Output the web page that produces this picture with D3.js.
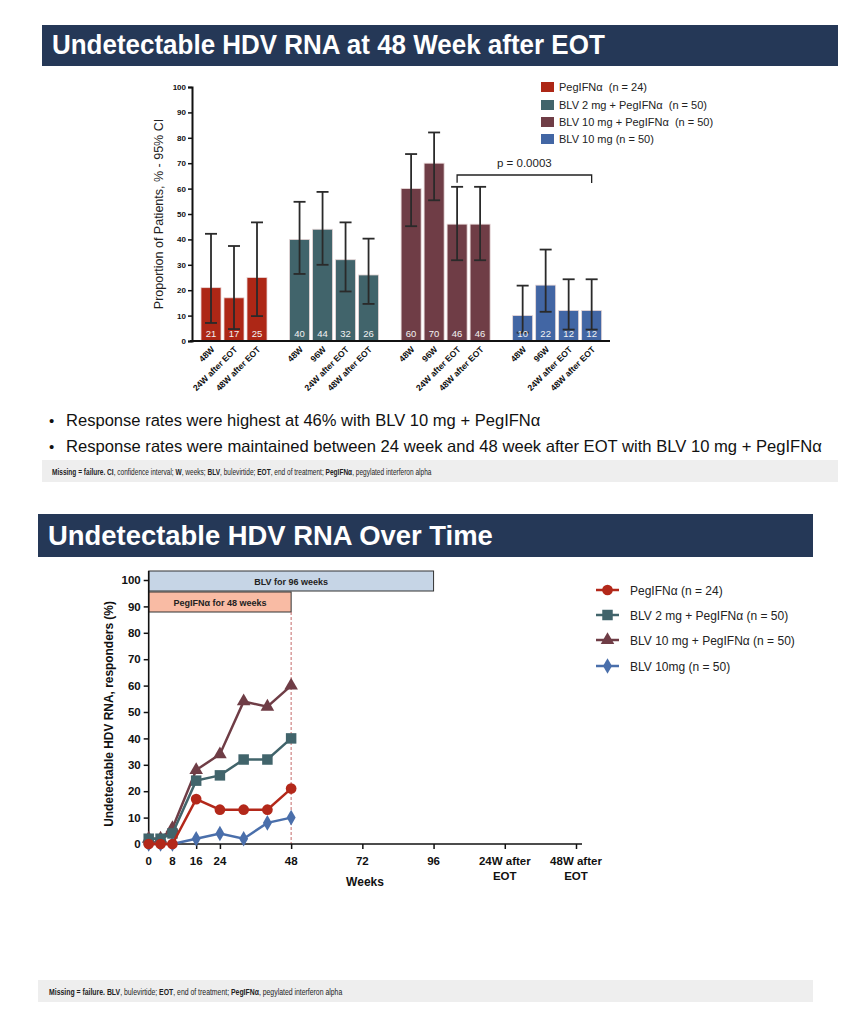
<!DOCTYPE html>
<html><head><meta charset="utf-8">
<script src="https://cdn.jsdelivr.net/npm/d3@7/dist/d3.min.js"></script>
<style>
html,body{margin:0;padding:0;background:#fff;}
svg{display:block;font-family:"Liberation Sans",Arial,sans-serif;}
</style></head>
<body>
<svg id="chart" width="866" height="1021"></svg>
<script>
// ---------- DATA ----------
const barGroupNames = ["PegIFNα  (n = 24)", "BLV 2 mg + PegIFNα  (n = 50)", "BLV 10 mg + PegIFNα  (n = 50)", "BLV 10 mg (n = 50)"];
const barColors = ["#ad2716", "#41646b", "#6f3d46", "#4266a4"];
const barLabels = [
  ["48W", "24W after EOT", "48W after EOT"],
  ["48W", "96W", "24W after EOT", "48W after EOT"],
  ["48W", "96W", "24W after EOT", "48W after EOT"],
  ["48W", "96W", "24W after EOT", "48W after EOT"]
];
const barValues = [[21, 17, 25], [40, 44, 32, 26], [60, 70, 46, 46], [10, 22, 12, 12]];
const ciLow = [[7.1, 4.7, 9.8], [26.4, 30.0, 19.5, 14.6], [45.2, 55.4, 31.8, 31.8], [3.3, 11.5, 4.5, 4.5]];
const ciHigh = [[42.2, 37.4, 46.7], [54.8, 58.7, 46.7, 40.3], [73.6, 82.1, 60.7, 60.7], [21.8, 36.0, 24.3, 24.3]];
const barYTicks = [0, 10, 20, 30, 40, 50, 60, 70, 80, 90, 100];
const pValueText = "p = 0.0003";

const lineSeriesNames = ["PegIFNα (n = 24)", "BLV 2 mg + PegIFNα (n = 50)", "BLV 10 mg + PegIFNα (n = 50)", "BLV 10mg (n = 50)"];
const lineColors = ["#b3281a", "#41646b", "#6f3d46", "#4a6fab"];
const weeks = [0, 4, 8, 16, 24, 32, 40, 48];
const linePeg = [0, 0, 0, 17, 13, 13, 13, 21];
const lineBlv2 = [2, 2, 4, 24, 26, 32, 32, 40];
const lineBlv10P = [2, 2, 6, 28, 34, 54, 52, 60];
const lineBlv10 = [0, 0, 0, 2, 4, 2, 8, 10];
const lineXTicks = [0, 8, 16, 24, 48, 72, 96, 120, 144];
const lineXTickLabels = ["0", "8", "16", "24", "48", "72", "96", "24W after|EOT", "48W after|EOT"];
const lineYTicks = [0, 10, 20, 30, 40, 50, 60, 70, 80, 90, 100];

const svg = d3.select("#chart");
svg.append("rect").attr("width", 866).attr("height", 1021).attr("fill", "#fff");

// ---------- helpers ----------
function fitText(sel, x, y, targetW) {
  const w = sel.node().getComputedTextLength();
  const sx = targetW / w;
  sel.attr("x", 0).attr("y", 0).attr("transform", `translate(${x},${y}) scale(${sx},1)`);
  return sel;
}
function titleBar(x, y, w, h, text, tx, tlen) {
  svg.append("rect").attr("x", x).attr("y", y).attr("width", w).attr("height", h).attr("fill", "#253857");
  const t = svg.append("text").attr("fill", "#fff")
    .attr("font-size", 27).attr("font-weight", "bold").text(text);
  fitText(t, tx, y + h - 12, tlen);
}
function footBar(x, y, w, h, parts, tx, tlen) {
  svg.append("rect").attr("x", x).attr("y", y).attr("width", w).attr("height", h).attr("fill", "#eeeeee");
  const t = svg.append("text").attr("fill", "#222").attr("font-size", 8.5);
  parts.forEach(p => t.append("tspan").attr("font-weight", p[1] ? "bold" : "normal").text(p[0]));
  fitText(t, tx, y + 15, tlen);
}

// ---------- TOP: titles ----------
titleBar(42, 25, 796, 41, "Undetectable HDV RNA at 48 Week after EOT", 52, 553);

// ---------- BAR CHART ----------
const yB = d3.scaleLinear().domain([0, 100]).range([341, 87]);
const slot = d3.scaleLinear().domain([0, 1]).range([201, 224]);
const bw = slot(0.87) - slot(0);
const bars = [];
let idx = 0;
barValues.forEach((vals, g) => {
  vals.forEach((v, i) => {
    bars.push({ g, i, v, lo: ciLow[g][i], hi: ciHigh[g][i], label: barLabels[g][i], u: idx + 0.85 * g });
    idx++;
  });
});

const gB = svg.append("g");
gB.selectAll("rect.bar").data(bars).enter().append("rect")
  .attr("x", d => slot(d.u)).attr("y", d => yB(d.v))
  .attr("width", bw).attr("height", d => yB(0) - yB(d.v))
  .attr("fill", d => barColors[d.g]).attr("stroke", "#e8d8d8").attr("stroke-width", 0.8);

// error bars
const eb = gB.selectAll("g.err").data(bars).enter().append("g").attr("stroke", "#2a2a2a").attr("stroke-width", 1.8);
eb.append("line").attr("x1", d => slot(d.u) + bw / 2).attr("x2", d => slot(d.u) + bw / 2)
  .attr("y1", d => yB(d.hi)).attr("y2", d => yB(d.lo));
eb.append("line").attr("x1", d => slot(d.u) + bw / 2 - 6).attr("x2", d => slot(d.u) + bw / 2 + 6)
  .attr("y1", d => yB(d.hi)).attr("y2", d => yB(d.hi));
eb.append("line").attr("x1", d => slot(d.u) + bw / 2 - 6).attr("x2", d => slot(d.u) + bw / 2 + 6)
  .attr("y1", d => yB(d.lo)).attr("y2", d => yB(d.lo));

// value labels
gB.selectAll("text.val").data(bars).enter().append("text")
  .attr("x", d => slot(d.u) + bw / 2).attr("y", yB(0) - 4)
  .attr("text-anchor", "middle").attr("fill", "#f2f2f2").attr("font-size", 9.5).text(d => d.v);

// y axis
const yAxisB = svg.append("g").attr("transform", "translate(192,0)")
  .call(d3.axisLeft(yB).tickValues(barYTicks).tickSize(4).tickPadding(2));
yAxisB.select(".domain").attr("stroke", "#111").attr("stroke-width", 2);
yAxisB.selectAll(".tick line").attr("stroke", "#111").attr("stroke-width", 1.5);
yAxisB.selectAll(".tick text").attr("font-size", 8).attr("font-weight", "bold").attr("fill", "#111")
  .attr("font-family", "Liberation Sans, Arial, sans-serif");
// x axis line
svg.append("line").attr("x1", 190).attr("x2", 610).attr("y1", yB(0)).attr("y2", yB(0))
  .attr("stroke", "#111").attr("stroke-width", 2);

// x labels
gB.selectAll("text.xl").data(bars).enter().append("text")
  .attr("transform", d => `translate(${slot(d.u) + bw / 2 + 4},${yB(0) + 9}) rotate(-45)`)
  .attr("text-anchor", "end").attr("font-size", 8.6).attr("font-weight", "bold").attr("fill", "#111")
  .text(d => d.label);

// y label
svg.append("text").attr("transform", "translate(163,214) rotate(-90)").attr("text-anchor", "middle")
  .attr("font-size", 12.5).attr("fill", "#222").text("Proportion of Patients, % - 95% CI");

// legend
const leg1 = svg.append("g");
barGroupNames.forEach((n, i) => {
  const y = [87, 105, 122, 139][i];
  leg1.append("rect").attr("x", 541).attr("y", y - 5).attr("width", 13).attr("height", 10).attr("fill", barColors[i]);
  leg1.append("text").attr("x", 559).attr("y", y + 4).attr("font-size", 11).attr("fill", "#222")
    .style("white-space", "pre").text(n);
});

// p-value bracket
const bA = bars[9], bB = bars[14];
const xA = slot(bA.u) + bw / 2, xBr = slot(bB.u) + bw / 2;
svg.append("path").attr("d", `M${xA},${yB(bA.hi) - 4}V175H${xBr}V${183}`)
  .attr("fill", "none").attr("stroke", "#222").attr("stroke-width", 1.3);
svg.append("text").attr("x", (xA + xBr) / 2).attr("y", 167).attr("text-anchor", "middle")
  .attr("font-size", 11.5).attr("fill", "#222").text(pValueText);

// bullets
const bulletTexts = [
  ["Response rates were highest at 46% with BLV 10 mg + PegIFNα", 475],
  ["Response rates were maintained between 24 week and 48 week after EOT with BLV 10 mg + PegIFNα", 756]
];
bulletTexts.forEach((b, i) => {
  const y = 426 + i * 26;
  svg.append("text").attr("x", 49).attr("y", y).attr("font-size", 15).attr("fill", "#111").text("•");
  const t = svg.append("text").attr("font-size", 16.5).attr("fill", "#111").text(b[0]);
  fitText(t, 66, y, b[1]);
});

footBar(42, 460, 796, 22, [
  ["Missing = failure. ", 1], ["CI", 1], [", confidence interval; ", 0], ["W", 1], [", weeks; ", 0],
  ["BLV", 1], [", bulevirtide; ", 0], ["EOT", 1], [", end of treatment; ", 0], ["PegIFNα", 1], [", pegylated interferon alpha", 0]
], 52, 380);

// ---------- BOTTOM ----------
titleBar(38, 514, 775, 43, "Undetectable HDV RNA Over Time", 48, 445);

const xL = d3.scaleLinear().domain([0, 144]).range([148.7, 576]);
const yL = d3.scaleLinear().domain([0, 100]).range([844, 580]);

// treatment bars
svg.append("rect").attr("x", xL(0)).attr("y", 571).attr("width", xL(96) - xL(0)).attr("height", 20)
  .attr("fill", "#c6d5e6").attr("stroke", "#333").attr("stroke-width", 1);
svg.append("text").attr("x", (xL(0) + xL(96)) / 2).attr("y", 584.5).attr("text-anchor", "middle")
  .attr("font-size", 9).attr("font-weight", "bold").attr("fill", "#222").text("BLV for 96 weeks");
svg.append("rect").attr("x", xL(0)).attr("y", 592).attr("width", xL(48) - xL(0)).attr("height", 20)
  .attr("fill", "#f9bba4").attr("stroke", "#333").attr("stroke-width", 1);
svg.append("text").attr("x", (xL(0) + xL(48)) / 2).attr("y", 605.5).attr("text-anchor", "middle")
  .attr("font-size", 9).attr("font-weight", "bold").attr("fill", "#222").text("PegIFNα for 48 weeks");

// dashed line at week 48
svg.append("line").attr("x1", xL(48)).attr("x2", xL(48)).attr("y1", 612).attr("y2", yL(0))
  .attr("stroke", "#c46a6a").attr("stroke-width", 1).attr("stroke-dasharray", "3,2");

// axes
const xAxisL = svg.append("g").attr("transform", `translate(0,${yL(0)})`)
  .call(d3.axisBottom(xL).tickValues(lineXTicks).tickSize(5).tickFormat(() => ""));
xAxisL.select(".domain").attr("stroke", "#111").attr("stroke-width", 1.6).attr("d", `M${xL(0)},0H582`);
xAxisL.selectAll(".tick line").attr("stroke", "#111").attr("stroke-width", 1.5);
lineXTicks.forEach((t, i) => {
  const parts = lineXTickLabels[i].split("|");
  const tx = svg.append("text").attr("x", xL(t)).attr("y", yL(0) + 21).attr("text-anchor", "middle")
    .attr("font-size", 11.5).attr("font-weight", "bold").attr("fill", "#111");
  parts.forEach((p, j) => tx.append("tspan").attr("x", xL(t)).attr("dy", j ? 15 : 0).text(p));
});
const yAxisL = svg.append("g").attr("transform", `translate(${xL(0)},0)`)
  .call(d3.axisLeft(yL).tickValues(lineYTicks).tickSize(5).tickPadding(3));
yAxisL.select(".domain").attr("stroke", "#111").attr("stroke-width", 1.6).attr("d", `M0,${yL(0)}V571`);
yAxisL.selectAll(".tick line").attr("stroke", "#111").attr("stroke-width", 1.5);
yAxisL.selectAll(".tick text").attr("font-size", 11.5).attr("font-weight", "bold").attr("fill", "#111")
  .attr("font-family", "Liberation Sans, Arial, sans-serif");

svg.append("text").attr("x", 365).attr("y", 886).attr("text-anchor", "middle")
  .attr("font-size", 12).attr("font-weight", "bold").attr("fill", "#111").text("Weeks");
const yl2 = svg.append("text").attr("text-anchor", "middle")
  .attr("font-size", 12.5).attr("font-weight", "bold").attr("fill", "#111").text("Undetectable HDV RNA, responders (%)");
{
  const w = yl2.node().getComputedTextLength();
  yl2.attr("transform", `translate(113,714) rotate(-90) scale(${226 / w},1)`);
}

// series
const seriesVals = [linePeg, lineBlv2, lineBlv10P, lineBlv10];
const symbols = [
  d3.symbol().type(d3.symbolCircle).size(90),
  d3.symbol().type(d3.symbolSquare).size(110),
  d3.symbol().type(d3.symbolTriangle).size(80),
  d3.symbol().type(d3.symbolDiamond).size(70)
];
const lineGen = d3.line().x(d => xL(d[0])).y(d => yL(d[1]));
[3, 2, 1, 0].forEach(s => {
  const pts = weeks.map((w, i) => [w, seriesVals[s][i]]);
  const g = svg.append("g");
  g.append("path").datum(pts).attr("d", lineGen).attr("fill", "none")
    .attr("stroke", lineColors[s]).attr("stroke-width", 2.5);
  g.selectAll("path.m").data(pts).enter().append("path")
    .attr("transform", d => `translate(${xL(d[0])},${yL(d[1])})`)
    .attr("d", symbols[s]()).attr("fill", lineColors[s]);
});

// legend 2
lineSeriesNames.forEach((n, i) => {
  const y = [590, 615, 640, 666][i];
  svg.append("line").attr("x1", 596).attr("x2", 619).attr("y1", y).attr("y2", y)
    .attr("stroke", lineColors[i]).attr("stroke-width", 2.5);
  svg.append("path").attr("transform", `translate(607.5,${y})`).attr("d", symbols[i]()).attr("fill", lineColors[i]);
  svg.append("text").attr("x", 630).attr("y", y + 4.5).attr("font-size", 12).attr("fill", "#222").text(n);
});

footBar(38, 980, 775, 22, [
  ["Missing = failure. ", 1], ["BLV", 1], [", bulevirtide; ", 0], ["EOT", 1], [", end of treatment; ", 0],
  ["PegIFNα", 1], [", pegylated interferon alpha", 0]
], 49, 294);
</script>
</body></html>
